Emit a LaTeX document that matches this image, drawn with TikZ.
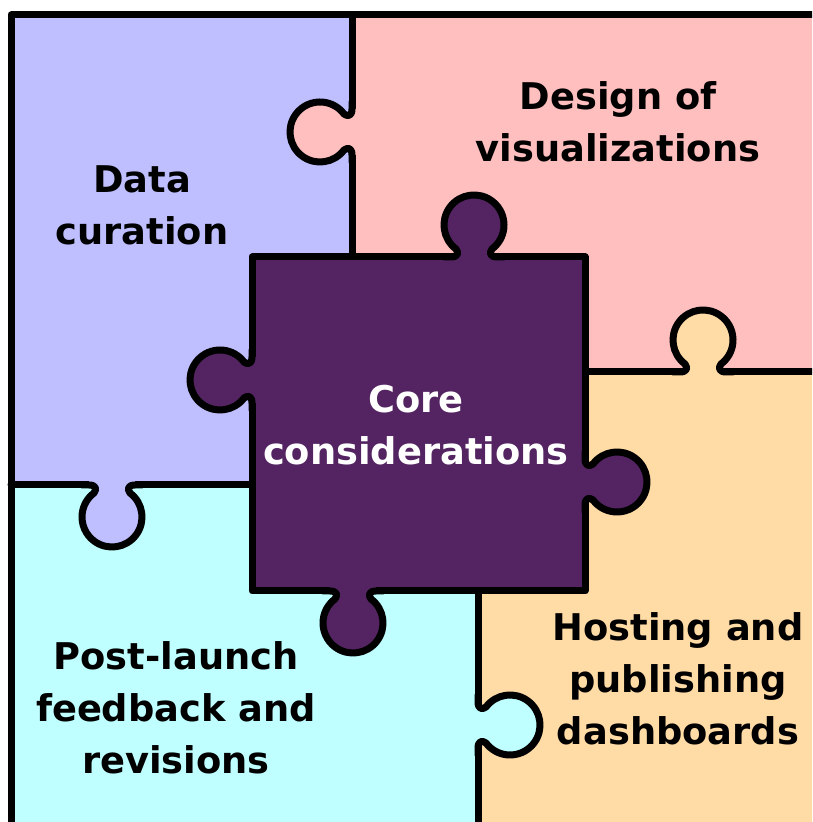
\documentclass[tikz,border=0pt]{standalone}
\usepackage{fontspec}
\setmainfont{DejaVu Sans}
\usepackage{tikz}
\definecolor{curationblue}{HTML}{BFBFFF}
\definecolor{designpink}{HTML}{FFBFBF}
\definecolor{hostingpeach}{HTML}{FFDBA6}
\definecolor{feedbackcyan}{HTML}{BFFFFF}
\definecolor{corepurple}{HTML}{532461}

% knob on a piece edge: #1 = middle of the edge, #2 = rotation (0 = points up), #3 = colour
\newcommand{\puzzletab}[3]{%
  \begin{scope}[shift={#1}, rotate=#2]
    \fill[#3] (-23,-4) -- (-23,0) .. controls (-16,0) and (-15,4) .. (-18,8)
      arc[start angle=233.13, end angle=-53.13, radius=30]
      .. controls (15,4) and (16,0) .. (23,0) -- (23,-4) -- cycle;
    \draw[pieceline] (-30,0) -- (-23,0) .. controls (-16,0) and (-15,4) .. (-18,8)
      arc[start angle=233.13, end angle=-53.13, radius=30]
      .. controls (15,4) and (16,0) .. (23,0) -- (30,0);
  \end{scope}}

\begin{document}
\begin{tikzpicture}[
    x=0.5pt, y=0.5pt,
    pieceline/.style={line width=3.5pt, line join=round, line cap=round},
    piecetext/.style={font=\bfseries\fontsize{18.4}{26}\selectfont, align=center}
]
    \useasboundingbox (0,0) rectangle (812,822);
    \clip (0,0) rectangle (812,822);

    % Outer pieces
    \fill[curationblue] (11,337) rectangle (352,807);
    \fill[designpink] (352,450) rectangle (830,807);
    \fill[hostingpeach] (478,-20) rectangle (830,450);
    \fill[feedbackcyan] (11,-20) rectangle (478,337);

    % Seams
    \draw[pieceline] (352,807) -- (352,565);
    \draw[pieceline] (11,337) -- (252,337);
    \draw[pieceline] (585,450) -- (830,450);
    \draw[pieceline] (478,231) -- (478,-20);
    \puzzletab{(352,690)}{90}{designpink}
    \puzzletab{(112,337)}{180}{curationblue}
    \puzzletab{(703,450)}{0}{hostingpeach}
    \puzzletab{(478,97)}{-90}{feedbackcyan}

    % Frame
    \draw[pieceline] (11,-20) -- (11,807) -- (830,807);

    % Centre piece
    \filldraw[pieceline, fill=corepurple] (252,231) rectangle (585,565);
    \puzzletab{(474,565)}{0}{corepurple}
    \puzzletab{(252,442)}{90}{corepurple}
    \puzzletab{(585,340)}{-90}{corepurple}
    \puzzletab{(353,231)}{180}{corepurple}

    % Labels
    \node[piecetext] (curation) at (142,617) {Data\\curation};
    \node[piecetext] (design) at (618,700) {Design of\\visualizations};
    \node[piecetext, text=white] (core) at (416,397) {Core\\considerations};
    \node[piecetext] (feedback) at (176,114) {Post-launch\\feedback and\\revisions};
    \node[piecetext] (hosting) at (678,143) {Hosting and\\publishing\\dashboards};
\end{tikzpicture}
\end{document}
